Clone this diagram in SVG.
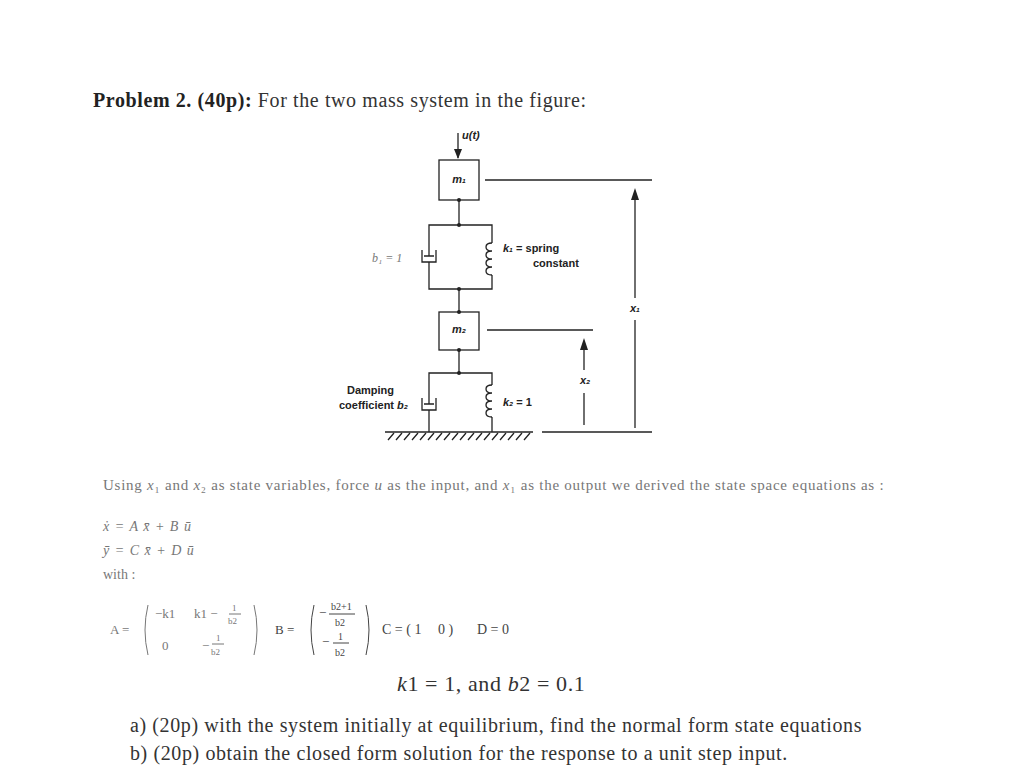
<svg xmlns="http://www.w3.org/2000/svg" width="1024" height="777" viewBox="0 0 1024 777">
<style>
.ln{stroke:#222;stroke-width:1.3;fill:none}
.t{font-family:"Liberation Serif",serif;fill:#333}
.s{font-family:"Liberation Sans",sans-serif;font-weight:bold;fill:#222;font-size:11px}
.g{font-family:"Liberation Serif",serif;fill:#777}
</style>
<rect width="1024" height="777" fill="#fff"/>
<text class="t" x="93" y="107" font-size="20" letter-spacing="0.6"><tspan font-weight="bold" fill="#222">Problem 2. (40p):</tspan> For the two mass system in the figure:</text>
<g id="connectors">
<line class="ln" x1="458" y1="133" x2="458" y2="158"/>
<path d="M454,149 L458,159 L462,149Z" fill="#222"/>
<line class="ln" x1="459" y1="200" x2="459" y2="225"/>
<path class="ln" d="M429,256 V225 H492 V243 M429,262 V289 H492 V275"/>
<line class="ln" x1="459" y1="289" x2="459" y2="312"/>
<line class="ln" x1="459" y1="350" x2="459" y2="373"/>
<path class="ln" d="M429,404 V373 H492 V385 M429,410 V432 M492,417 V432"/>
<path class="ln" d="M422,250 V262 H436 V250 M424,256 H434"/>
<path class="ln" d="M422,398 V410 H436 V398 M424,404 H434"/>
<path class="ln" d="M492,243 c-8,0 -8,8 0,8 c-8,0 -8,8 0,8 c-8,0 -8,8 0,8 c-8,0 -8,8 0,8"/>
<path class="ln" d="M492,385 c-8,0 -8,8 0,8 c-8,0 -8,8 0,8 c-8,0 -8,8 0,8 c-8,0 -8,8 0,8"/>
<circle cx="459" cy="225" r="2" fill="#222"/><circle cx="459" cy="289" r="2" fill="#222"/><circle cx="459" cy="373" r="2" fill="#222"/>
<circle cx="459" cy="200" r="2" fill="#222"/><circle cx="459" cy="312" r="2" fill="#222"/><circle cx="459" cy="350" r="2" fill="#222"/>
<line class="ln" x1="385" y1="432" x2="533" y2="432"/>
<path class="ln" stroke-width="1" d="M388,440 l6,-7 M396,440 l6,-7 M404,440 l6,-7 M412,440 l6,-7 M420,440 l6,-7 M428,440 l6,-7 M436,440 l6,-7 M444,440 l6,-7 M452,440 l6,-7 M460,440 l6,-7 M468,440 l6,-7 M476,440 l6,-7 M484,440 l6,-7 M492,440 l6,-7 M500,440 l6,-7 M508,440 l6,-7 M516,440 l6,-7 M524,440 l6,-7"/>
<line class="ln" x1="485" y1="180" x2="652" y2="180"/>
<line class="ln" x1="487" y1="330" x2="593" y2="330"/>
<line class="ln" x1="542" y1="432" x2="652" y2="432"/>
<line class="ln" x1="635" y1="428" x2="635" y2="320"/>
<line class="ln" x1="635" y1="298" x2="635" y2="196"/>
<path d="M631,200 L635,188 L639,200Z" fill="#222"/>
<line class="ln" x1="584" y1="425" x2="584" y2="393"/>
<line class="ln" x1="584" y1="370" x2="584" y2="346"/>
<path d="M580,350 L584,338 L588,350Z" fill="#222"/>
</g>
<g id="m1"><rect class="ln" x="439" y="160" width="40" height="40" fill="#fff"/><text class="s" x="459" y="183" text-anchor="middle" font-style="italic">m₁</text></g>
<g id="m2"><rect class="ln" x="439" y="312" width="40" height="38" fill="#fff"/><text class="s" x="459" y="333" text-anchor="middle" font-style="italic">m₂</text></g>
<g id="labels">
<text class="s" x="462" y="139" font-style="italic" font-weight="normal">u(t)</text>
<text class="g" x="372" y="262" font-size="12" font-style="italic">b₁ = 1</text>
<text class="s" x="503" y="252"><tspan font-style="italic">k₁</tspan> = spring</text>
<text class="s" x="533" y="267">constant</text>
<text class="s" x="347" y="394">Damping</text>
<text class="s" x="339" y="409">coefficient <tspan font-style="italic">b₂</tspan></text>
<text class="s" x="503" y="406"><tspan font-style="italic">k₂</tspan> = 1</text>
<text class="s" x="630" y="312" font-size="9" font-style="italic" font-weight="normal">x₁</text>
<text class="s" x="580" y="384" font-size="9" font-style="italic" font-weight="normal">x₂</text>
</g>
<text class="g" x="103" y="490" font-size="15" letter-spacing="0.75">Using <tspan font-style="italic">x</tspan>₁ and <tspan font-style="italic">x</tspan>₂ as state variables, force <tspan font-style="italic">u</tspan> as the input, and <tspan font-style="italic">x</tspan>₁ as the output we derived the state space equations as :</text>
<text class="g" x="103" y="531" font-size="14" font-style="italic" letter-spacing="1">ẋ = A x̄ + B ū</text>
<text class="g" x="103" y="555" font-size="14" font-style="italic" letter-spacing="1">ȳ = C x̄ + D ū</text>
<text class="g" x="103" y="579" font-size="14">with :</text>
<g class="g" font-size="13">
<text x="110" y="634">A =</text>
<path d="M148,605 q-6,25 0,50 M254,605 q6,25 0,50" stroke="#777" fill="none"/>
<text x="155" y="618">−k1</text><text x="194" y="618">k1 −</text>
<text x="232" y="611" font-size="9">1</text><line x1="229" y1="614" x2="241" y2="614" stroke="#777"/><text x="228" y="624" font-size="9">b2</text>
<text x="162" y="650">0</text><text x="202" y="650">−</text>
<text x="216" y="641" font-size="9">1</text><line x1="212" y1="644" x2="224" y2="644" stroke="#777"/><text x="211" y="655" font-size="9">b2</text>
<text x="275" y="634" fill="#444">B =</text>
<path d="M314,605 q-6,25 0,50 M366,605 q6,25 0,50" stroke="#444" fill="none"/>
<text x="319" y="617" fill="#444">−</text><text x="331" y="610" font-size="10" fill="#444">b2+1</text><line x1="329" y1="614" x2="355" y2="614" stroke="#444"/><text x="335" y="626" font-size="10" fill="#444">b2</text>
<text x="322" y="646" fill="#444">−</text><text x="338" y="640" font-size="10" fill="#444">1</text><line x1="333" y1="643" x2="349" y2="643" stroke="#444"/><text x="335" y="656" font-size="10" fill="#444">b2</text>
<text x="382" y="634" fill="#444" font-size="14">C = ( 1</text><text x="438" y="634" fill="#444" font-size="14">0 )</text><text x="477" y="634" fill="#444" font-size="14">D = 0</text>
</g>
<text class="t" x="397" y="691" font-size="22" letter-spacing="0.6"><tspan font-style="italic">k</tspan>1 = 1, and <tspan font-style="italic">b</tspan>2 = 0.1</text>
<text class="t" x="130" y="732" font-size="20" letter-spacing="0.6" fill="#444">a)  (20p) with the system initially at equilibrium, find the normal form state equations</text>
<text class="t" x="130" y="760" font-size="20" letter-spacing="0.6" fill="#444">b)  (20p) obtain the closed form solution for the response to a unit step input.</text>
</svg>
